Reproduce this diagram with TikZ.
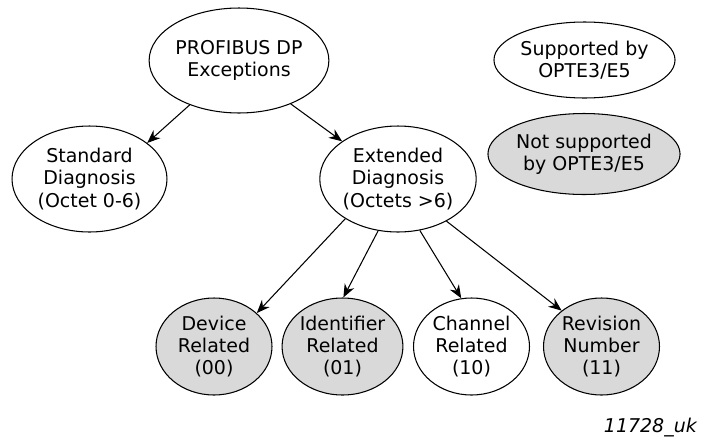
\documentclass[tikz,border=0pt]{standalone}
\usepackage{fontspec}
\setmainfont{DejaVu Sans}
\usetikzlibrary{arrows.meta,shapes.geometric}

\begin{document}
\begin{tikzpicture}[x=0.02cm, y=-0.02cm, line join=round, >={Stealth[length=7.5pt,width=6pt]}, font=\fontsize{10.8}{12.7}\selectfont,
		oval/.style={ellipse, draw, line width=0.6pt, inner sep=0pt, align=center},
		nosup/.style={oval, fill=black!15},
		leaf/.style={minimum width=2.32cm, minimum height=1.94cm},
		link/.style={->, line width=0.6pt}]
			\useasboundingbox (0,0) rectangle (710,440);
			
			\node[oval, minimum width=3.38cm, minimum height=2.1cm] (prof) at (239,60.5) {PROFIBUS DP\\Exceptions};
			\node[oval, minimum width=3.1cm, minimum height=2.12cm] (std) at (89.5,179) {Standard\\Diagnosis\\(Octet 0-6)};
			\node[oval, minimum width=3.08cm, minimum height=2.12cm] (ext) at (398,179) {Extended\\Diagnosis\\(Octets >6)};
			
			\node[nosup, leaf] (dev) at (214,346.5) {Device\\Related\\(00)};
			\node[nosup, leaf] (ident) at (342.5,346.5) {Identifier\\Related\\(01)};
			\node[oval, leaf] (chan) at (471.5,346.5) {Channel\\Related\\(10)};
			\node[nosup, leaf] (rev) at (601.5,346.5) {Revision\\Number\\(11)};
			
			\node[oval, minimum width=3.3cm, minimum height=1.52cm] (sup) at (584.5,60) {Supported by\\OPTE3/E5};
			\node[nosup, minimum width=3.34cm, minimum height=1.62cm] (notsup) at (584,154) {Not supported\\by OPTE3/E5};
			
			\draw[link] (prof.222) -- (std.32);
			\draw[link] (prof.320.6) -- (ext.146);
			\draw[link] (ext.217.7) -- (dev.38.7);
			\draw[link] (ext.249.3) -- (ident.89.4);
			\draw[link] (ext.293.5) -- (chan.102);
			\draw[link] (ext.319) -- (rev.138);
			
			\node[anchor=east, font=\fontsize{10.8}{12.7}\selectfont\itshape] (fig) at (703,428) {11728\_uk};
		\end{tikzpicture}
\end{document}
